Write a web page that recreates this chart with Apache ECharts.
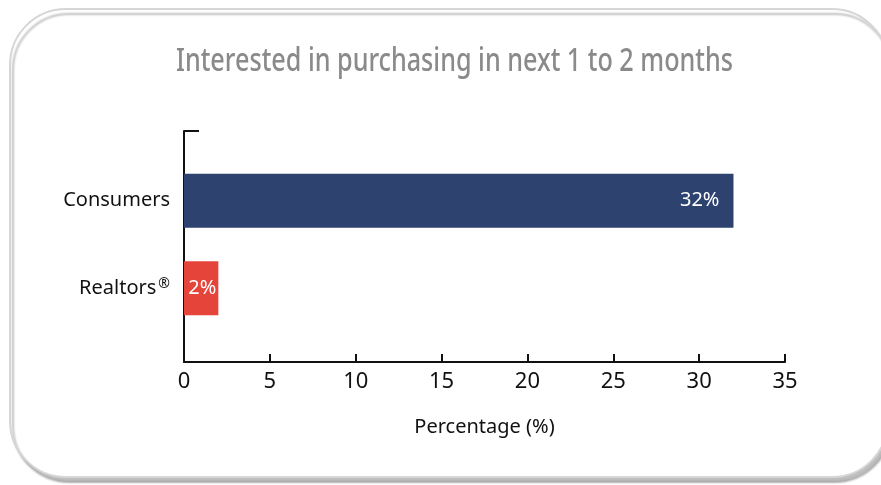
<!DOCTYPE html>
<html>
<head>
<meta charset="utf-8">
<style>
  html, body { margin: 0; padding: 0; background: #ffffff; }
  #chart { width: 881px; height: 485px; }
</style>
<script src="https://cdn.jsdelivr.net/npm/echarts@6/dist/echarts.min.js"></script>
</head>
<body>
<div id="chart"></div>
<script>
// Survey: share interested in purchasing in the next 1 to 2 months
const titleText = 'Interested in purchasing in next 1 to 2 months';
const groups = ['Consumers', 'Realtors®'];
const shares = [32, 2];
const barColors = ['#2E4270', '#E5443A'];
const xTicks = { min: 0, max: 35, step: 5 };
const xName = 'Percentage (%)';

const chart = echarts.init(document.getElementById('chart'), null, { renderer: 'canvas' });

const labelFont = 'Noto Sans';

// Title is drawn condensed: measure its natural width and squeeze it horizontally
const titleFont = { size: 32, weight: 500, family: 'Noto Sans' };
const titleWidth = 557;
const measureCtx = document.createElement('canvas').getContext('2d');
measureCtx.font = titleFont.weight + ' ' + titleFont.size + 'px "' + titleFont.family + '"';
const titleScale = titleWidth / measureCtx.measureText(titleText).width;

// Category label: a registered-mark symbol is set as a small superscript
function categoryLabel(name) {
  if (name.endsWith('®')) {
    return name.slice(0, -1) + '{sup|®}';
  }
  return name;
}

chart.setOption({
  backgroundColor: '#ffffff',
  animation: false,
  graphic: [{
    type: 'rect',
    left: 9,
    top: 8,
    shape: { width: 878, height: 468, r: 56 },
    style: {
      fill: '#ffffff',
      stroke: '#d6d6d6',
      lineWidth: 2,
      shadowColor: 'rgba(0,0,0,0.25)',
      shadowBlur: 2,
      shadowOffsetX: 3,
      shadowOffsetY: 5
    },
    z: -10
  }, {
    type: 'text',
    x: 454.5,
    y: 62,
    scaleX: titleScale,
    style: {
      text: titleText,
      fontFamily: titleFont.family,
      fontSize: titleFont.size,
      fontWeight: titleFont.weight,
      fill: '#8a8a8a',
      align: 'center',
      verticalAlign: 'middle'
    },
    z: 10
  }],
  grid: [
    // frame grid: carries the visible axes
    { left: 184, right: 96, top: 131, bottom: 123, containLabel: false },
    // bar grid: category bands for the two groups
    { left: 184, right: 96, top: 157, bottom: 153, containLabel: false }
  ],
  xAxis: [{
    gridIndex: 0,
    type: 'value',
    min: xTicks.min,
    max: xTicks.max,
    interval: xTicks.step,
    name: xName,
    nameLocation: 'middle',
    nameGap: 55,
    nameTextStyle: { fontFamily: labelFont, fontSize: 20, color: '#111' },
    axisLine: { show: true, lineStyle: { color: '#111', width: 2 } },
    axisTick: { show: true, inside: true, length: 8, lineStyle: { color: '#111', width: 2 } },
    axisLabel: { fontFamily: labelFont, fontSize: 22, color: '#111', margin: 9 },
    splitLine: { show: false }
  }, {
    gridIndex: 1,
    type: 'value',
    min: xTicks.min,
    max: xTicks.max,
    show: false
  }],
  yAxis: [{
    gridIndex: 0,
    type: 'value',
    min: 0,
    max: 1,
    interval: 1,
    axisLine: { show: true, lineStyle: { color: '#111', width: 2 } },
    axisTick: { show: true, inside: true, length: 15, lineStyle: { color: '#111', width: 2 } },
    axisLabel: { show: false },
    splitLine: { show: false }
  }, {
    gridIndex: 1,
    type: 'category',
    inverse: true,
    data: groups,
    axisLine: { show: false },
    axisTick: { show: false },
    axisLabel: {
      fontFamily: labelFont,
      fontSize: 20,
      color: '#111',
      margin: 14,
      formatter: categoryLabel,
      rich: {
        sup: {
          fontFamily: labelFont,
          fontSize: 14,
          color: '#111',
          verticalAlign: 'top',
          padding: [0, 0, 8, 2]
        }
      }
    }
  }],
  series: [{
    type: 'bar',
    xAxisIndex: 1,
    yAxisIndex: 1,
    barWidth: 54,
    data: shares.map((v, i) => ({
      value: v,
      itemStyle: { color: barColors[i] },
      label: { distance: i === 0 ? 14 : 2 }
    })),
    label: {
      show: true,
      position: 'insideRight',
      formatter: '{c}%',
      fontFamily: labelFont,
      fontSize: 20,
      color: '#ffffff'
    }
  }]
});
</script>
</body>
</html>
